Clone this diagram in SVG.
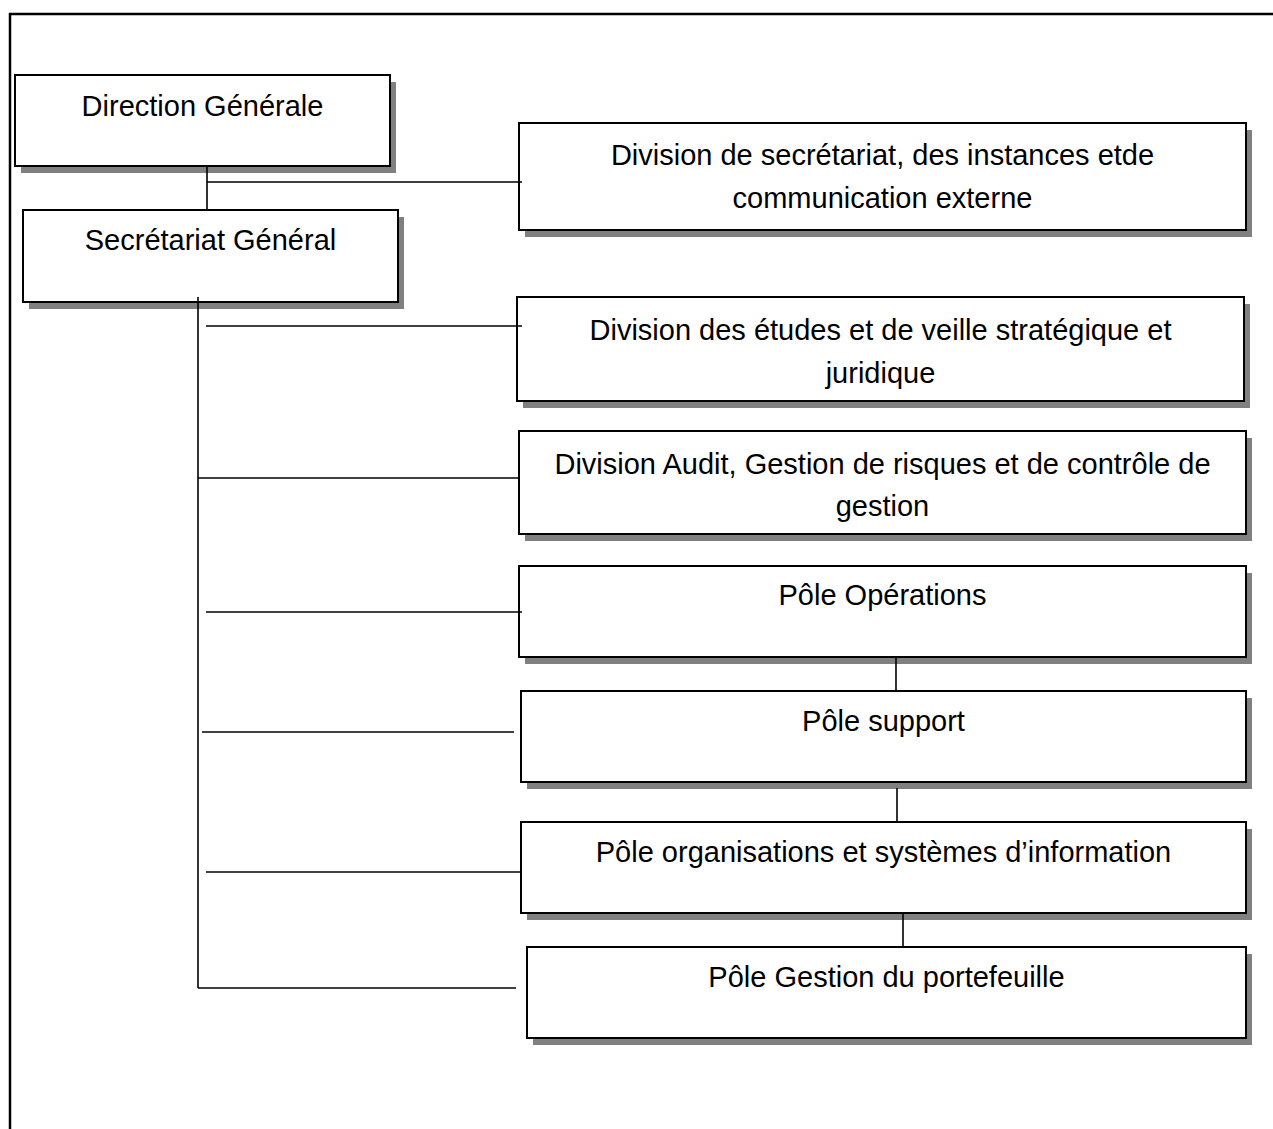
<svg xmlns="http://www.w3.org/2000/svg" width="1273" height="1129" viewBox="0 0 1273 1129">
<style>
.sh{fill:#808080}
.bx{fill:#fff;stroke:#000;stroke-width:2}
.t{font-family:"Liberation Sans",Arial,sans-serif;font-size:29px;fill:#000;text-anchor:middle}
.c{stroke:#000;stroke-width:1.6;fill:none}
</style>
<rect width="1273" height="1129" fill="#fff"/>
<path d="M10,1129 V14 H1273" fill="none" stroke="#000" stroke-width="2.5"/>
<g id="n-direction">
<rect class="sh" x="21" y="82" width="375" height="91"/>
<rect class="bx" x="15" y="75" width="375" height="91"/>
<text class="t" x="202.5" y="116">Direction Générale</text>
</g>
<g id="n-secretariat">
<rect class="sh" x="29" y="217" width="375" height="92"/>
<rect class="bx" x="23" y="210" width="375" height="92"/>
<text class="t" x="210.5" y="250">Secrétariat Général</text>
</g>
<g id="n-div-secretariat">
<rect class="sh" x="525" y="130" width="727" height="107"/>
<rect class="bx" x="519" y="123" width="727" height="107"/>
<text class="t" x="882.5" y="165">Division de secrétariat, des instances etde</text>
<text class="t" x="882.5" y="208">communication externe</text>
</g>
<g id="n-div-etudes">
<rect class="sh" x="523" y="304" width="727" height="104"/>
<rect class="bx" x="517" y="297" width="727" height="104"/>
<text class="t" x="880.5" y="340">Division des études et de veille stratégique et</text>
<text class="t" x="880.5" y="383">juridique</text>
</g>
<g id="n-div-audit">
<rect class="sh" x="525" y="438" width="727" height="103"/>
<rect class="bx" x="519" y="431" width="727" height="103"/>
<text class="t" x="882.5" y="474">Division Audit, Gestion de risques et de contrôle de</text>
<text class="t" x="882.5" y="516">gestion</text>
</g>
<g id="n-pole-operations">
<rect class="sh" x="525" y="573" width="727" height="91"/>
<rect class="bx" x="519" y="566" width="727" height="91"/>
<text class="t" x="882.5" y="605">Pôle Opérations</text>
</g>
<g id="n-pole-support">
<rect class="sh" x="527" y="698" width="725" height="91"/>
<rect class="bx" x="521" y="691" width="725" height="91"/>
<text class="t" x="883.5" y="731">Pôle support</text>
</g>
<g id="n-pole-organisations">
<rect class="sh" x="527" y="829" width="725" height="91"/>
<rect class="bx" x="521" y="822" width="725" height="91"/>
<text class="t" x="883.5" y="862">Pôle organisations et systèmes d’information</text>
</g>
<g id="n-pole-gestion">
<rect class="sh" x="533" y="954" width="719" height="91"/>
<rect class="bx" x="527" y="947" width="719" height="91"/>
<text class="t" x="886.5" y="987">Pôle Gestion du portefeuille</text>
</g>
<g id="connectors">
<path class="c" d="M207,166 V210 M207,182 H522"/>
<path class="c" d="M198,297 V988"/>
<path class="c" d="M206,326 H522"/>
<path class="c" d="M198,478 H520"/>
<path class="c" d="M206,612 H522"/>
<path class="c" d="M202,732 H514"/>
<path class="c" d="M206,872 H521"/>
<path class="c" d="M198,988 H516"/>
<path class="c" d="M896,657 V691"/>
<path class="c" d="M897,788 V822"/>
<path class="c" d="M903,913 V947"/>
</g>
</svg>
